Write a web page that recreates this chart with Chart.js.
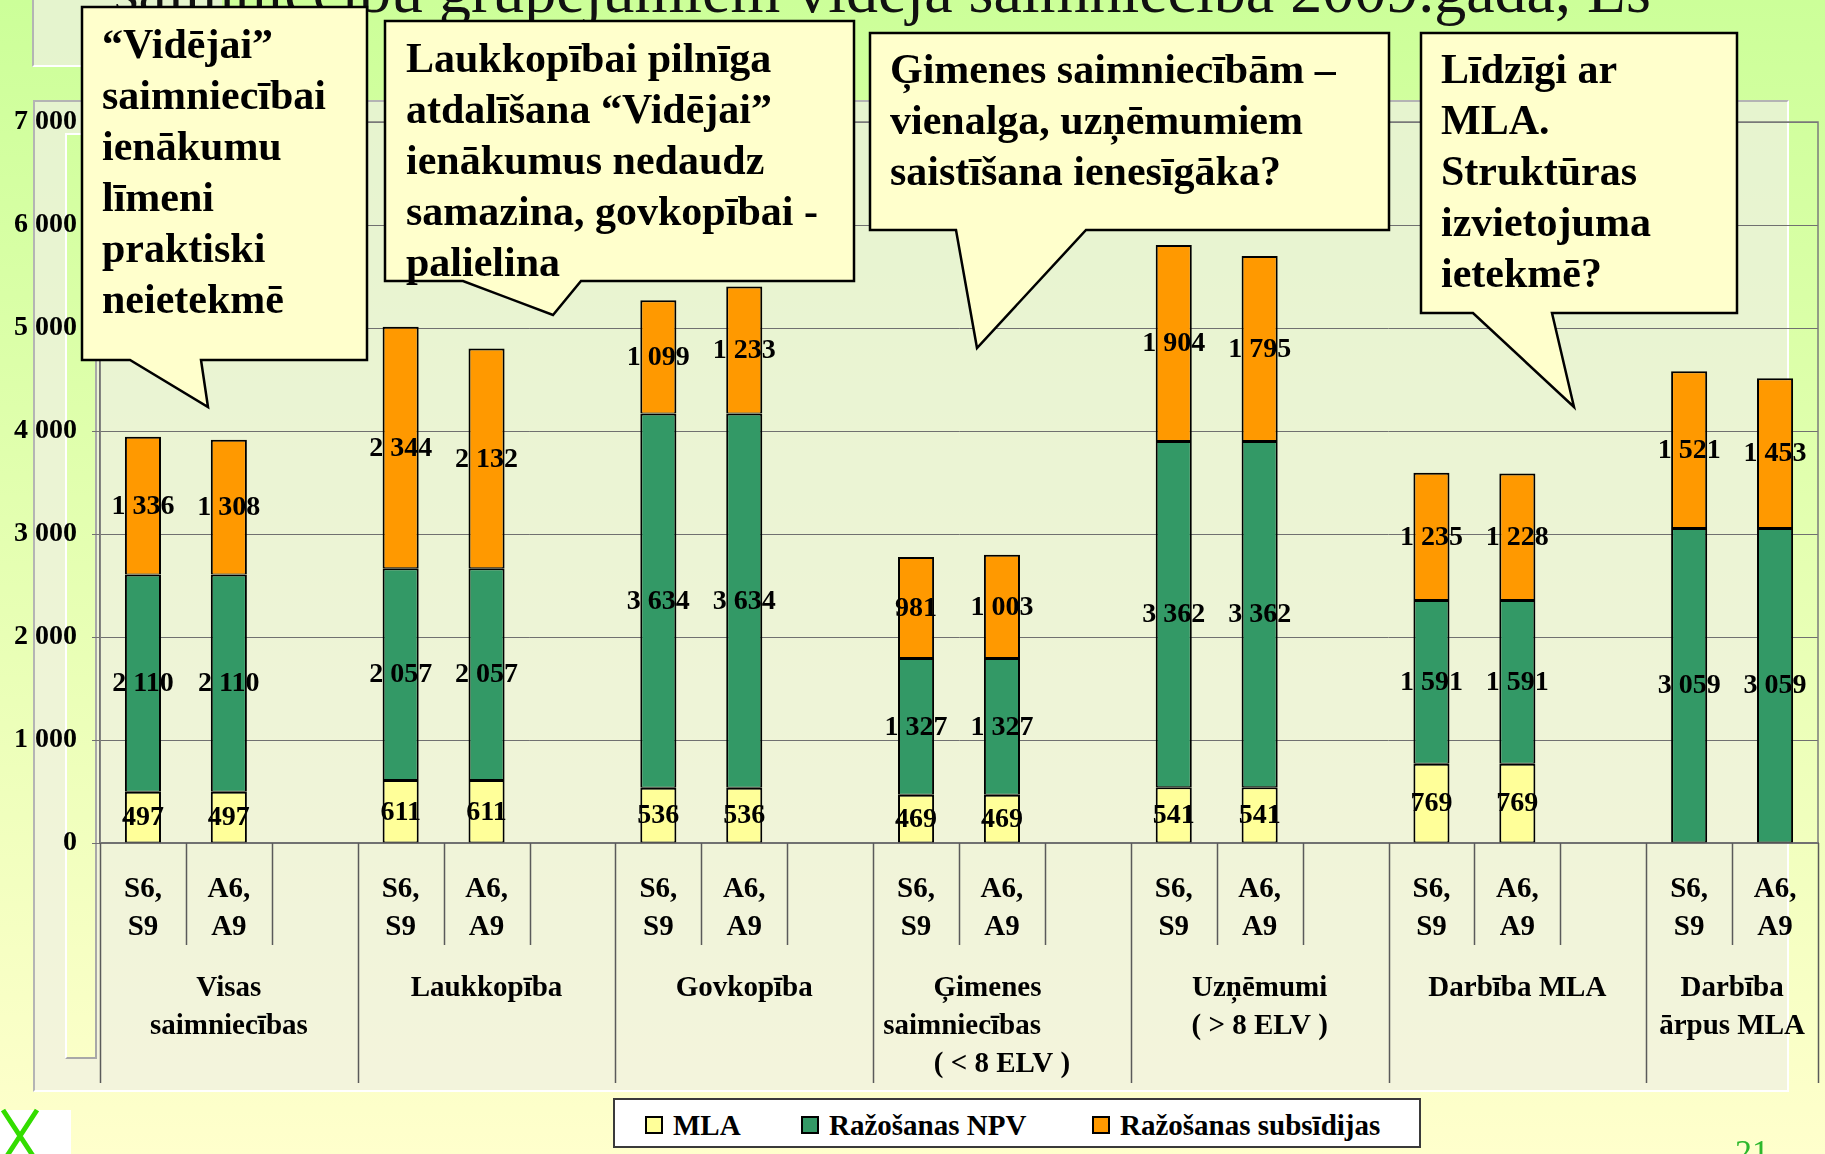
<!DOCTYPE html>
<html lang="lv">
<head>
<meta charset="utf-8">
<title>Vidējā saimniecība 2009.gadā, Ls</title>
<script src="https://cdn.jsdelivr.net/npm/chart.js@4.4.1/dist/chart.umd.min.js"></script>
<style>
  html, body { margin: 0; padding: 0; }
  body {
    position: relative;
    width: 1825px;
    height: 1154px;
    overflow: hidden;
    background: linear-gradient(#ccff99, #ffffcc);
    font-family: 'Liberation Serif', 'Times New Roman', serif;
  }
  .abs { position: absolute; box-sizing: border-box; }
  #titleBox {
    left: 32px; top: -4px; width: 190px; height: 71px;
    background: rgba(240, 240, 228, 0.7);
    border-left: 2px solid #b4b4b4; border-bottom: 2px solid #fff;
  }
  #frame {
    left: 33px; top: 100px; width: 1756px; height: 992px;
    background: rgba(240, 240, 228, 0.7);
    border: 2px solid #fff; border-left-color: #b4b4b4; border-top-color: #b4b4b4;
  }
  #wall {
    left: 65px; top: 133px; width: 32px; height: 926px;
    background: linear-gradient(#ccff99, #ffffcc) fixed;
    border: 2px solid #a8a8a8; border-left-color: #fff; border-top-color: #fff;
  }
  #chart { position: absolute; left: 0; top: 0; }
  #overlay { position: absolute; left: 0; top: 0; pointer-events: none; }
  #legend {
    left: 613px; top: 1098px; width: 808px; height: 50px;
    background: #fff; border: 2px solid #3a3a3a;
    font-weight: bold; font-size: 29px; color: #000;
  }
  #legend .item { position: absolute; top: 2px; height: 46px; display: flex; align-items: center; white-space: nowrap; }
  #legend i { display: inline-block; width: 18px; height: 18px; box-sizing: border-box; border: 2px solid #000; margin-right: 10px; }
  .callout path { fill: #ffffcc; stroke: #000; stroke-width: 2.5; }
  .callout text { font-family: 'Liberation Serif', 'Times New Roman', serif; font-weight: bold; font-size: 42px; fill: #000; }
</style>
</head>
<body>
<div id="titleBox" class="abs"></div>
<div id="frame" class="abs"></div>
<div id="wall" class="abs"></div>
<canvas id="chart" width="1825" height="1154"></canvas>
<div id="legend" class="abs"></div>

<svg id="overlay" width="1825" height="1154" viewBox="0 0 1825 1154">
  <text x="1651" y="12" text-anchor="end" font-family="'Liberation Serif', 'Times New Roman', serif" font-size="64" fill="#111">saimniecību grupējumiem vidējā saimniecība 2009.gadā, Ls</text>

  <g class="callout">
    <path d="M82,7 H367 V360 H201 L208,407 L130,360 H82 Z"/>
    <text x="102" y="58">
      <tspan x="102">“Vidējai”</tspan>
      <tspan x="102" dy="51">saimniecībai</tspan>
      <tspan x="102" dy="51">ienākumu</tspan>
      <tspan x="102" dy="51">līmeni</tspan>
      <tspan x="102" dy="51">praktiski</tspan>
      <tspan x="102" dy="51">neietekmē</tspan>
    </text>
  </g>
  <g class="callout">
    <path d="M385,21 H854 V281 H581 L553,315 L463,281 H385 Z"/>
    <text x="406" y="72">
      <tspan x="406">Laukkopībai pilnīga</tspan>
      <tspan x="406" dy="51">atdalīšana “Vidējai”</tspan>
      <tspan x="406" dy="51">ienākumus nedaudz</tspan>
      <tspan x="406" dy="51">samazina, govkopībai -</tspan>
      <tspan x="406" dy="51">palielina</tspan>
    </text>
  </g>
  <g class="callout">
    <path d="M870,33 H1389 V230 H1086 L977,348 L956,230 H870 Z"/>
    <text x="890" y="83">
      <tspan x="890">Ģimenes saimniecībām –</tspan>
      <tspan x="890" dy="51">vienalga, uzņēmumiem</tspan>
      <tspan x="890" dy="51">saistīšana ienesīgāka?</tspan>
    </text>
  </g>
  <g class="callout">
    <path d="M1421,33 H1737 V313 H1552 L1574,407 L1473,313 H1421 Z"/>
    <text x="1441" y="83">
      <tspan x="1441">Līdzīgi ar</tspan>
      <tspan x="1441" dy="51">MLA.</tspan>
      <tspan x="1441" dy="51">Struktūras</tspan>
      <tspan x="1441" dy="51">izvietojuma</tspan>
      <tspan x="1441" dy="51">ietekmē?</tspan>
    </text>
  </g>

  <text x="1735" y="1163" font-family="'Liberation Serif', 'Times New Roman', serif" font-size="34" fill="#2db82d">21</text>
  <rect x="0" y="1110" width="71" height="44" fill="#fff"/>
  <path d="M3,1110 L37,1162 M37,1110 L3,1162" stroke="#33dd00" stroke-width="5" fill="none"/>
</svg>

<script>
// two bars per group: S6,S9 and A6,A9; the third slot is an empty spacer
const categories = [
  ['S6,', 'S9'], ['A6,', 'A9'], '',
  ['S6,', 'S9'], ['A6,', 'A9'], '',
  ['S6,', 'S9'], ['A6,', 'A9'], '',
  ['S6,', 'S9'], ['A6,', 'A9'], '',
  ['S6,', 'S9'], ['A6,', 'A9'], '',
  ['S6,', 'S9'], ['A6,', 'A9'], '',
  ['S6,', 'S9'], ['A6,', 'A9']
]

const groupLabels = [
  ['Visas', 'saimniecības'],
  'Laukkopība',
  'Govkopība',
  ['Ģimenes    ', 'saimniecības           ', '( < 8 ELV )'],
  ['Uzņēmumi', '( > 8 ELV )'],
  'Darbība MLA',
  ['Darbība', 'ārpus MLA']
]
const groupSizes = [3, 3, 3, 3, 3, 3, 2]

const seriesNames = ['MLA', 'Ražošanas NPV', 'Ražošanas subsīdijas']
const seriesColors = ['#ffff99', '#339966', '#ff9900']

const mla = [497, 497, null, 611, 611, null, 536, 536, null, 469, 469, null, 541, 541, null, 769, 769, null, null, null]
const npv = [2110, 2110, null, 2057, 2057, null, 3634, 3634, null, 1327, 1327, null, 3362, 3362, null, 1591, 1591, null, 3059, 3059]
const subsidies = [1336, 1308, null, 2344, 2132, null, 1099, 1233, null, 981, 1003, null, 1904, 1795, null, 1235, 1228, null, 1521, 1453]

const yMax = 7000
const yStep = 1000

const labelFont = 'bold 28px "Liberation Serif", "Times New Roman", serif'

function formatThousands (v) {
  return String(v).replace(/\B(?=(\d{3})+(?!\d))/g, ' ')
}

// group centers and edges, in category units
const groupCenters = []
const groupEdges = [0]
let start = 0
for (const size of groupSizes) {
  groupCenters.push(start - 0.5 + size / 2)
  start += size
  groupEdges.push(start)
}

const decorPlugin = {
  id: 'decor',
  beforeDatasetsDraw (chart) {
    const { ctx, chartArea: a, scales: { x, x2 } } = chart
    ctx.save()
    ctx.strokeStyle = '#7b7b7b'
    ctx.lineWidth = 1.5
    ctx.strokeRect(a.left, a.top, a.right - a.left, a.bottom - a.top)

    // slot separators below the axis, long ones between groups
    ctx.strokeStyle = '#5a5a5a'
    ctx.lineWidth = 1.5
    for (let k = 0; k <= categories.length; k++) {
      const px = Math.round(x2.getPixelForValue(k - 0.5)) + 0.5
      const bottom = groupEdges.includes(k) ? x2.bottom : x.top + 102
      ctx.beginPath()
      ctx.moveTo(px, a.bottom)
      ctx.lineTo(px, bottom)
      ctx.stroke()
    }
    ctx.restore()
  },
  afterDatasetsDraw (chart) {
    const { ctx } = chart
    ctx.save()
    ctx.font = labelFont
    ctx.fillStyle = '#000'
    ctx.textAlign = 'center'
    ctx.textBaseline = 'middle'
    chart.data.datasets.forEach((ds, i) => {
      chart.getDatasetMeta(i).data.forEach((bar, j) => {
        const v = ds.data[j]
        if (!v) return
        const { x, y, base } = bar.getProps(['x', 'y', 'base'], true)
        ctx.fillText(formatThousands(v), x, (y + base) / 2 + 1)
      })
    })
    ctx.restore()
  }
}

Chart.defaults.font.family = '"Liberation Serif", "Times New Roman", serif'
Chart.defaults.color = '#000'

const ctx = document.getElementById('chart').getContext('2d')

new Chart(ctx, {
  type: 'bar',
  data: {
    labels: categories,
    datasets: [mla, npv, subsidies].map((data, i) => ({
      label: seriesNames[i],
      data,
      backgroundColor: seriesColors[i],
      borderColor: '#000',
      borderWidth: { top: 2, right: 2, bottom: 1, left: 2 },
      borderSkipped: false,
      inflateAmount: 0,
      barPercentage: 0.42,
      categoryPercentage: 1
    }))
  },
  options: {
    responsive: false,
    animation: false,
    events: [],
    layout: { padding: { left: 0, top: 122, right: 7, bottom: 71 } },
    plugins: {
      legend: { display: false },
      tooltip: { enabled: false }
    },
    scales: {
      x: {
        stacked: true,
        weight: 0,
        grid: { display: false, drawTicks: false },
        border: { display: true, color: '#555', width: 2 },
        ticks: {
          autoSkip: false,
          maxRotation: 0,
          minRotation: 0,
          padding: 28,
          font: { size: 29, weight: 'bold', lineHeight: 38 / 29 }
        },
        afterFit: (s) => { s.height = 120 }
      },
      // second row of category labels: the groups
      x2: {
        type: 'linear',
        position: 'bottom',
        weight: 1,
        offset: false,
        bounds: 'data',
        min: -0.5,
        max: categories.length - 0.5,
        grid: { display: false, drawTicks: false, offset: false },
        border: { display: false },
        ticks: {
          autoSkip: false,
          maxRotation: 0,
          minRotation: 0,
          padding: 7,
          font: { size: 29, weight: 'bold', lineHeight: 38 / 29 },
          callback: (value, index) => groupLabels[index]
        },
        afterBuildTicks: (s) => { s.ticks = groupCenters.map((value) => ({ value })) },
        afterFit: (s) => { s.height = 120 }
      },
      y: {
        stacked: true,
        min: 0,
        max: yMax,
        ticks: {
          stepSize: yStep,
          padding: 15,
          font: { size: 28, weight: 'bold' },
          callback: (v) => formatThousands(v)
        },
        grid: { color: '#707070', tickColor: '#707070', tickLength: 8 },
        border: { color: '#555', width: 1.5 },
        afterFit: (s) => { s.width = 100 }
      }
    }
  },
  plugins: [decorPlugin]
})

// legend box, same as the slide's
const legend = document.getElementById('legend')
const legendLeft = [30, 186, 477]
seriesNames.forEach((name, i) => {
  const item = document.createElement('span')
  item.className = 'item'
  item.style.left = legendLeft[i] + 'px'
  const mark = document.createElement('i')
  mark.style.background = seriesColors[i]
  item.appendChild(mark)
  item.appendChild(document.createTextNode(name))
  legend.appendChild(item)
})
</script>
</body>
</html>
